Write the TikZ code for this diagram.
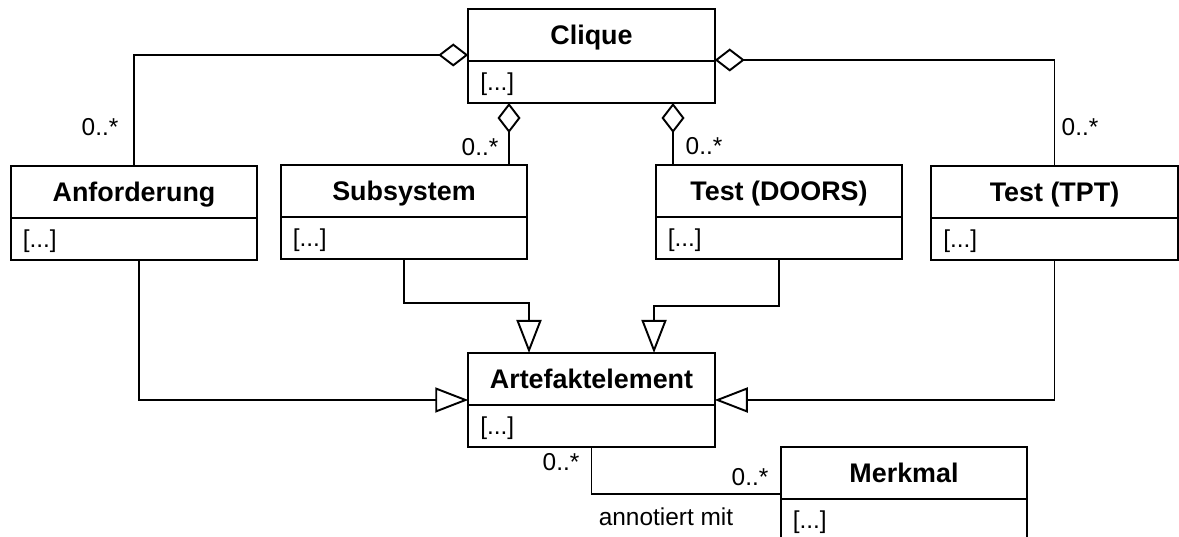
\documentclass[tikz,border=0pt]{standalone}
\usepackage{fontspec}
\setmainfont{Liberation Sans}
\usetikzlibrary{positioning,arrows.meta}

\begin{document}
\begin{tikzpicture}[
    line width=1.1pt,
    classname/.style={draw, minimum width=4.93cm, minimum height=1.04cm, inner sep=0pt,
      outer sep=0pt, text depth=0pt, font=\fontsize{15.3}{18}\selectfont\bfseries},
    classattr/.style={draw, minimum width=4.93cm, minimum height=0.84cm, inner xsep=0.24cm,
      inner ysep=0pt, outer sep=0pt, text width=4.45cm, align=left, text height=0.95em,
      text depth=0pt, font=\fontsize{13.9}{16}\selectfont},
    mult/.style={inner sep=0pt, font=\fontsize{13.9}{16}\selectfont},
    aggr/.style={{Diamond[open,length=6mm,width=4.6mm]}-},
    gen/.style={-{Triangle[open,length=6.6mm,width=5mm]}}
  ]
  \useasboundingbox (0,0) rectangle (23.58,10.74);
  \clip (0,0) rectangle (23.58,10.74);

  % Classes
  \node[classname] (clique) at (11.83, 10.04) {Clique};
  \node[classattr, below=0pt of clique] (cliqueattr) {[...]};

  \node[classname] (anf) at (2.68, 6.9) {Anforderung};
  \node[classattr, below=0pt of anf] (anfattr) {[...]};

  \node[classname] (subs) at (8.08, 6.92) {Subsystem};
  \node[classattr, below=0pt of subs] (subsattr) {[...]};

  \node[classname] (doors) at (15.58, 6.92) {Test (DOORS)};
  \node[classattr, below=0pt of doors] (doorsattr) {[...]};

  \node[classname] (tpt) at (21.09, 6.9) {Test (TPT)};
  \node[classattr, below=0pt of tpt] (tptattr) {[...]};

  \node[classname] (artefakt) at (11.83, 3.16) {Artefaktelement};
  \node[classattr, below=0pt of artefakt] (artattr) {[...]};

  \node[classname] (merkmal) at (18.08, 1.28) {Merkmal};
  \node[classattr, below=0pt of merkmal] (merkattr) {[...]};

  % Aggregations (Clique)
  \draw[aggr] ([yshift=-0.4cm]clique.west) -| (anf.north);
  \draw[aggr] ([yshift=-0.5cm]clique.east) -| (tpt.north);
  \draw[aggr] ([xshift=-1.65cm]cliqueattr.south) -- ([xshift=2.1cm]subs.north);
  \draw[aggr] ([xshift=1.63cm]cliqueattr.south) -- ([xshift=-2.12cm]doors.north);

  \node[mult] (manf) at (2.0, 8.2) {0..*};
  \node[mult] (msubs) at (9.6, 7.8) {0..*};
  \node[mult] (mdoors) at (14.08, 7.82) {0..*};
  \node[mult] (mtpt) at (21.6, 8.2) {0..*};

  % Generalizations (Artefaktelement)
  \draw[gen] ([xshift=0.1cm]anfattr.south) |- ([yshift=-0.42cm]artefakt.west);
  \draw[gen] (tptattr.south) |- ([yshift=-0.42cm]artefakt.east);
  \draw[gen] (subsattr.south) -- ++(0,-0.88) -| ([xshift=-1.25cm]artefakt.north);
  \draw[gen] (doorsattr.south) -- ++(0,-0.94) -| ([xshift=1.25cm]artefakt.north);

  % Association
  \draw (artattr.south) |- ([yshift=-0.42cm]merkmal.west);
  \node[mult] (mart) at (11.22, 1.5) {0..*};
  \node[mult] (mmerk) at (15.0, 1.2) {0..*};
  \node[mult] (annot) at (13.32, 0.4) {annotiert mit};
\end{tikzpicture}
\end{document}
